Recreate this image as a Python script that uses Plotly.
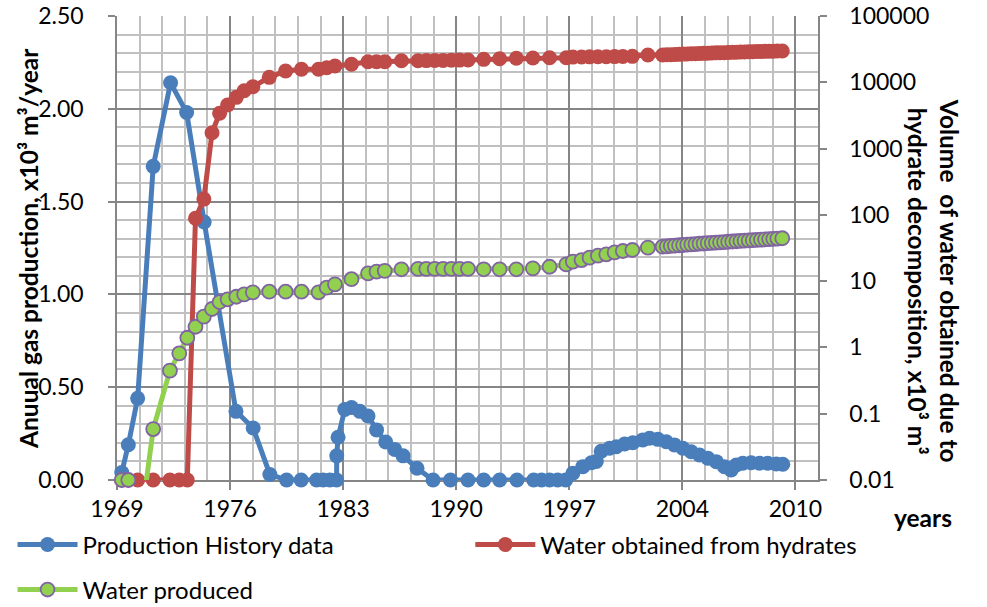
import plotly.graph_objects as go

# ---- Gas production history (left axis, x10^3 m3/year) ----
prod_years = [1969.29, 1969.69, 1970.26, 1971.21, 1972.27, 1973.25, 1974.32,
              1976.26, 1977.31, 1978.33, 1979.35, 1980.24, 1981.18, 1981.58,
              1981.99, 1982.40, 1982.41, 1982.49, 1982.90, 1983.31, 1983.82,
              1984.32, 1984.84, 1985.40, 1985.95, 1986.46, 1987.31, 1988.29,
              1989.35, 1990.42, 1991.38, 1992.35, 1993.41, 1994.43, 1994.91,
              1995.40, 1995.89, 1996.38, 1996.82, 1997.43, 1997.95, 1998.25,
              1998.55, 1999.06, 1999.47, 1999.98, 2000.48, 2001.09, 2001.50,
              2002.01, 2002.52, 2003.02, 2003.53, 2004.04, 2004.55, 2005.06,
              2005.57, 2006.07, 2006.48, 2006.79, 2007.19, 2007.70, 2008.21,
              2008.71, 2009.23, 2009.63]
prod_values = [0.04, 0.19, 0.44, 1.69, 2.14, 1.98, 1.39,
               0.37, 0.28, 0.03, 0.00, 0.00, 0.00, 0.00,
               0.00, 0.00, 0.13, 0.23, 0.38, 0.39, 0.37,
               0.345, 0.27, 0.205, 0.165, 0.13, 0.063, 0.00,
               0.00, 0.00, 0.00, 0.00, 0.00, 0.00, 0.00,
               0.00, 0.00, 0.00, 0.036, 0.072, 0.093, 0.10,
               0.155, 0.171, 0.179, 0.194, 0.201, 0.216, 0.225,
               0.219, 0.206, 0.189, 0.171, 0.152, 0.135, 0.117,
               0.099, 0.072, 0.054, 0.081, 0.09, 0.093, 0.09,
               0.09, 0.086, 0.085]

# ---- Water series (right log axis, x10^3 m3) ----
water_years = [1969.29, 1969.69, 1970.26, 1971.21, 1972.23, 1972.80, 1973.29,
               1973.79, 1974.30, 1974.80, 1975.26, 1975.75, 1976.28, 1976.76,
               1977.29, 1978.29, 1979.29, 1980.26, 1981.30, 1981.80, 1982.30,
               1983.31, 1984.32, 1984.84, 1985.34, 1986.36, 1987.37, 1987.88,
               1988.39, 1988.90, 1989.41, 1989.91, 1990.42, 1991.38, 1992.35,
               1993.37, 1994.38, 1995.40, 1996.42, 1996.82, 1997.35, 1997.84,
               1998.35, 1998.86, 1999.37, 1999.87, 2000.45, 2001.40,
               2002.30, 2002.55, 2002.80, 2003.05, 2003.30, 2003.55, 2003.80,
               2004.05, 2004.30, 2004.55, 2004.80, 2005.05, 2005.30, 2005.55,
               2005.80, 2006.05, 2006.30, 2006.55, 2006.80, 2007.05, 2007.30,
               2007.55, 2007.80, 2008.05, 2008.30, 2008.55, 2008.80, 2009.05,
               2009.30, 2009.60]

hydrate_water = [0.01, 0.01, 0.01, 0.01, 0.01, 0.01, 0.01,
                 88.7, 173, 1734, 3404, 4539, 5928, 7464,
                 8577, 11880, 14790, 15700, 15700, 16600, 17600,
                 18700, 20450, 20450, 20450, 21180, 21180, 21250,
                 21300, 21400, 21500, 21600, 21700, 22200, 22700,
                 23000, 23250, 23500, 23500, 24000, 24100, 24200,
                 24300, 24300, 24400, 24500, 24600, 25800,
                 25800, 26000, 26100, 26300, 26400, 26600, 26700,
                 26900, 27000, 27200, 27300, 27500, 27600, 27800,
                 27900, 28000, 28200, 28300, 28500, 28600, 28700,
                 28900, 29000, 29100, 29200, 29300, 29400, 29500,
                 29600, 29650]

produced_water = [0.01, 0.01, 0.001, 0.0587, 0.446, 0.815, 1.40,
                  2.05, 2.91, 3.80, 4.84, 5.32, 5.82, 6.32,
                  6.78, 6.93, 6.93, 6.93, 6.79, 7.96, 8.95,
                  10.7, 13.1, 13.9, 14.3, 15.1, 15.3, 15.3,
                  15.3, 15.3, 15.3, 15.3, 15.3, 15.1, 15.1,
                  15.1, 15.6, 16.5, 17.9, 19.7, 20.8, 22.6,
                  24.2, 25.4, 27.2, 28.5, 29.5, 32.0,
                  33.1, 33.5, 34.0, 34.3, 34.8, 35.1, 35.5,
                  35.9, 36.2, 36.7, 37.0, 37.4, 37.8, 38.1,
                  38.5, 38.9, 39.3, 39.6, 40.0, 40.4, 40.8,
                  41.1, 41.5, 41.9, 42.3, 42.7, 43.1, 43.5,
                  43.9, 44.4]

# ---- Axis ticks ----
x_start = 1969
x_step = 6.9
x_tick_labels = ["1969", "1976", "1983", "1990", "1997", "2004", "2010"]
right_tick_values = [0.01, 0.1, 1, 10, 100, 1000, 10000, 100000]
right_tick_labels = ["0.01", "0.1", "1", "10", "100", "1000", "10000", "100000"]

BLUE = "#4a7ebb"
RED = "#be4b48"
GREEN = "#92d050"
PURPLE = "#8064a2"
MAJOR_GRID = "#868686"
MINOR_GRID = "#c0c0c0"
FONT = "Lato"
FS = 23        # tick labels
FS_LEG = 24    # legend entries
FS_TITLE = 24.5

# the sub-axis water point is kept in the line but its marker is hidden
produced_sizes = [0 if v < 0.01 else 14 for v in produced_water]

fig = go.Figure()
fig.add_trace(go.Scatter(
    x=prod_years, y=prod_values, name="Production History data",
    mode="lines+markers", cliponaxis=False, legend="legend",
    line=dict(color=BLUE, width=5),
    marker=dict(color=BLUE, size=15, opacity=1, line=dict(width=0)),
))
fig.add_trace(go.Scatter(
    x=water_years, y=hydrate_water, name="Water obtained from hydrates",
    mode="lines+markers", yaxis="y2", cliponaxis=False, legend="legend2",
    line=dict(color=RED, width=5),
    marker=dict(color=RED, size=15, opacity=1, line=dict(width=0)),
))
fig.add_trace(go.Scatter(
    x=water_years, y=produced_water, name="Water produced",
    mode="lines+markers", yaxis="y2", cliponaxis=False, legend="legend3",
    line=dict(color=GREEN, width=5),
    marker=dict(color=GREEN, size=produced_sizes, opacity=1,
                line=dict(color=PURPLE, width=1.8)),
))

x_tick_vals = [x_start + x_step * i for i in range(len(x_tick_labels))]
x_end = x_start + x_step * 6.2

legend_common = dict(xanchor="left", yanchor="middle", orientation="h",
                     font=dict(family=FONT, size=FS_LEG), itemwidth=60,
                     bgcolor="rgba(0,0,0,0)")
title_font = dict(family=FONT, size=FS_TITLE, color="black", weight="bold")

fig.update_layout(
    width=987, height=607,
    margin=dict(l=117, r=169, t=16, b=127, autoexpand=False),
    paper_bgcolor="white", plot_bgcolor="white",
    font=dict(family=FONT, size=FS, color="black"),
    showlegend=True,
    xaxis=dict(
        range=[x_start, x_end], tickmode="array", tickvals=x_tick_vals,
        ticktext=x_tick_labels, showgrid=True, gridcolor=MAJOR_GRID, gridwidth=1.5,
        minor=dict(tick0=x_start, dtick=x_step / 5, showgrid=True,
                   gridcolor=MINOR_GRID, gridwidth=1.5),
        ticks="outside", ticklen=8, tickcolor=MAJOR_GRID, tickwidth=1.5,
        showline=True, linecolor=MAJOR_GRID, linewidth=1.5,
        zeroline=False, layer="below traces", ticklabelstandoff=0,
        tickfont=dict(family=FONT, size=FS),
    ),
    yaxis=dict(
        range=[0, 2.5], dtick=0.5, tickformat=".2f",
        showgrid=True, gridcolor=MAJOR_GRID, gridwidth=1.5,
        minor=dict(dtick=0.1, showgrid=True, gridcolor=MINOR_GRID, gridwidth=1.5),
        ticks="outside", ticklen=7, tickcolor=MAJOR_GRID, tickwidth=1.5,
        showline=True, linecolor=MAJOR_GRID, linewidth=1.5,
        zeroline=False, layer="below traces", ticklabelstandoff=20,
        tickfont=dict(family=FONT, size=FS),
    ),
    yaxis2=dict(
        type="log", range=[-2, 5], overlaying="y", side="right", anchor="x",
        tickmode="array", tickvals=right_tick_values, ticktext=right_tick_labels,
        showgrid=False, ticks="outside", ticklen=7, tickcolor=MAJOR_GRID, tickwidth=1.5,
        showline=True, linecolor=MAJOR_GRID, linewidth=1.5,
        zeroline=False, layer="below traces", ticklabelstandoff=18,
        tickfont=dict(family=FONT, size=FS),
    ),
    legend=dict(x=-0.149, y=-0.14, **legend_common),
    legend2=dict(x=0.504, y=-0.14, **legend_common),
    legend3=dict(x=-0.149, y=-0.237, **legend_common),
    annotations=[
        dict(text="Anuual gas production, x10³ m³/year", xref="paper", yref="paper",
             x=-0.127, y=0.5, xanchor="center", yanchor="middle", textangle=-90,
             showarrow=False, font=title_font),
        dict(text="Volume  of water obtained due to<br>hydrate decomposition, x10³ m³",
             xref="paper", yref="paper", x=1.165, y=0.43, xanchor="center", yanchor="middle",
             textangle=90, showarrow=False, align="center", font=title_font),
        dict(text="years", xref="paper", yref="paper", x=1.15, y=-0.08,
             xanchor="center", yanchor="middle", showarrow=False, font=title_font),
    ],
)

fig.write_html("out.html")
